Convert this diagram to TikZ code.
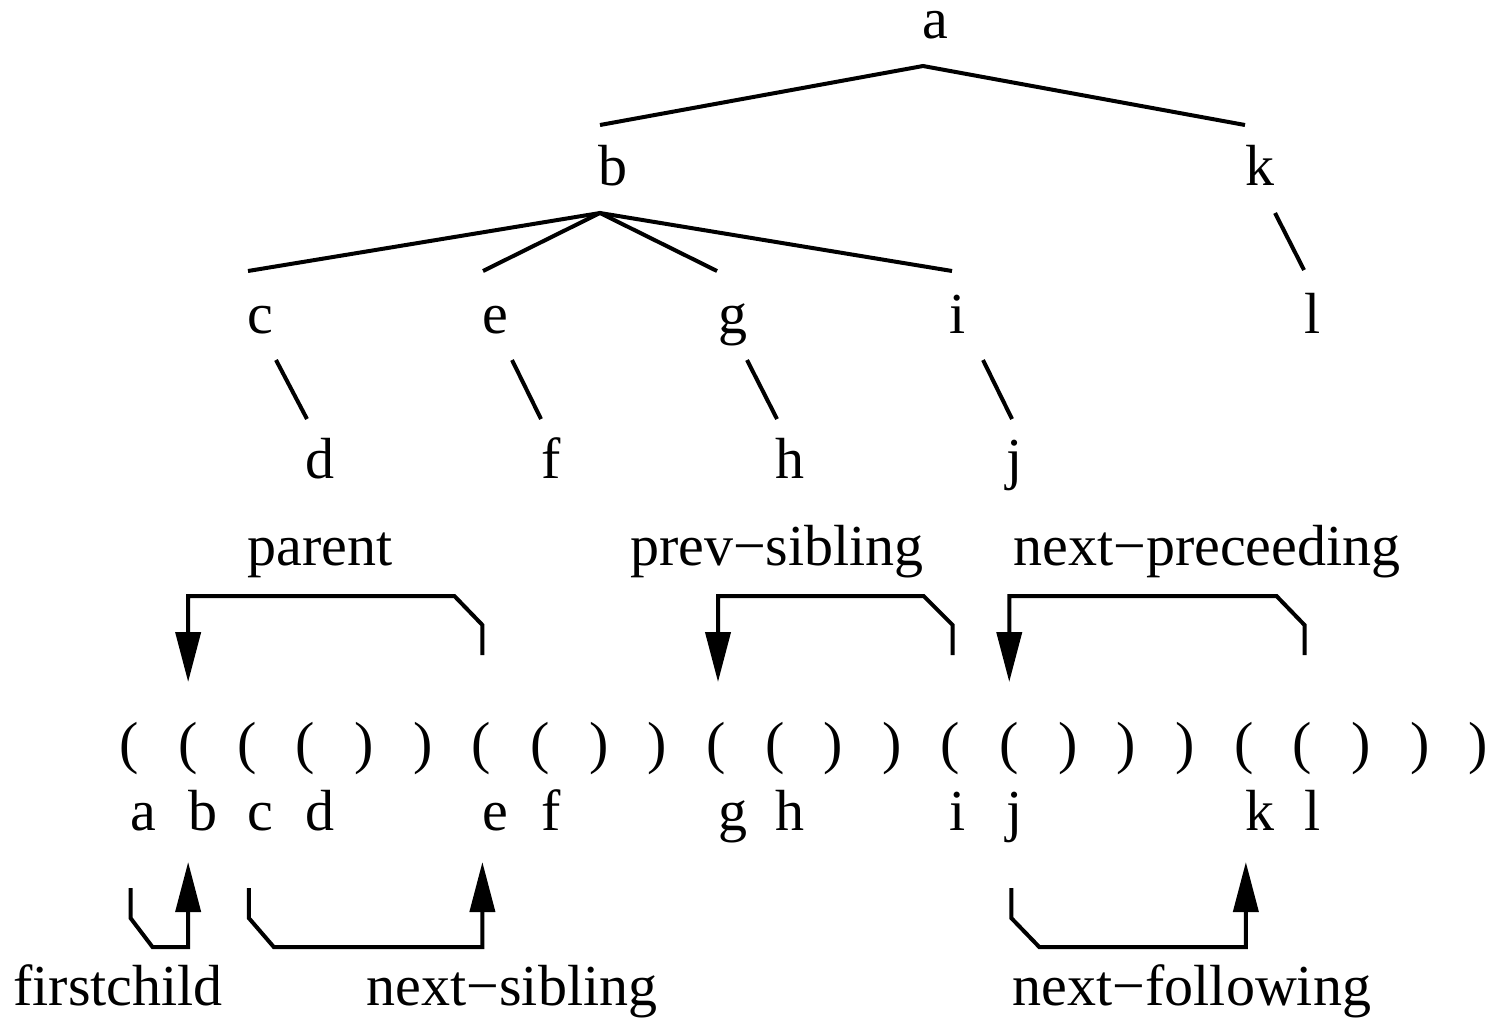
\documentclass[tikz,border=0pt]{standalone}
\usepackage{fontspec}
\setmainfont{Liberation Serif}
\usetikzlibrary{arrows.meta,calc}
\begin{document}
\begin{tikzpicture}[x=1pt,y=-1pt,
  lbl/.style={anchor=base,inner sep=0pt,font=\fontsize{58}{60}\selectfont},
  edge/.style={line width=4pt},
  arr/.style={line width=4pt,-{Triangle[length=50pt,width=25pt]}}]
\useasboundingbox (0,0) rectangle (1501,1021);
% tree letters
\node[lbl] (ta) at (935,38) {a};
\node[lbl] (tb) at (613,185) {b};
\node[lbl] (tk) at (1260,185) {k};
\node[lbl] (tc) at (260,333) {c};
\node[lbl] (te) at (495,333) {e};
\node[lbl] (tg) at (733,333) {g};
\node[lbl] (ti) at (958,333) {i};
\node[lbl] (tl) at (1313,333) {l};
\node[lbl] (td) at (320,478) {d};
\node[lbl] (tf) at (551,478) {f};
\node[lbl] (th) at (790,478) {h};
\node[lbl] (tj) at (1015,478) {j};
% tree edges
\draw[edge] ($(tb.base)+(-13,-60)$) -- ($(ta.base)+(-12,28)$) -- ($(tk.base)+(-15,-60)$);
\draw[edge] ($(tc.base)+(-12,-62)$) -- ($(tb.base)+(-13,28)$) -- ($(ti.base)+(-6,-62)$);
\draw[edge] ($(te.base)+(-12,-62)$) -- ($(tb.base)+(-13,28)$) -- ($(tg.base)+(-16,-62)$);
\draw[edge] ($(tk.base)+(15,28)$) -- ($(tl.base)+(-9,-63)$);
\draw[edge] ($(tc.base)+(16,27)$) -- ($(td.base)+(-13,-59)$);
\draw[edge] ($(te.base)+(17,27)$) -- ($(tf.base)+(-10,-59)$);
\draw[edge] ($(tg.base)+(14,27)$) -- ($(th.base)+(-13,-59)$);
\draw[edge] ($(ti.base)+(25,27)$) -- ($(tj.base)+(-3,-59)$);
% parentheses (0 = open, 1 = close)
\foreach \c [count=\i] in {0,0,0,0,1,1,0,0,1,1,0,0,1,1,0,0,1,1,1,0,0,1,1,1}{
  \node[lbl] (p\i) at ({129.5+58.65*(\i-1)},762) {\ifnum\c=0 (\else )\fi};
}
% sequence letters
\node[lbl] (la) at (143,830) {a};
\node[lbl] (lb) at (203,830) {b};
\node[lbl] (lc) at (260,830) {c};
\node[lbl] (ld) at (320,830) {d};
\node[lbl] (le) at (495,830) {e};
\node[lbl] (lf) at (551,830) {f};
\node[lbl] (lg) at (733,830) {g};
\node[lbl] (lh) at (790,830) {h};
\node[lbl] (li) at (958,830) {i};
\node[lbl] (lj) at (1015,830) {j};
\node[lbl] (lk) at (1260,830) {k};
\node[lbl] (ll) at (1313,830) {l};
% labels
\node[lbl] (parent) at (320,565) {parent};
\node[lbl] (prevsib) at (777,565) {prev−sibling};
\node[lbl] (nextprec) at (1207,565) {next−preceeding};
\node[lbl] (firstchild) at (118,1005) {firstchild};
\node[lbl] (nextsib) at (512,1005) {next−sibling};
\node[lbl] (nextfol) at (1192,1005) {next−following};
% top arrows
\draw[arr] ($(p7.base)+(1,-107)$) -- ++(0,-30) -- ++(-28,-29) -| ($(p2.base)+(0,-80)$);
\draw[arr] ($(p15.base)+(2,-107)$) -- ++(0,-30) -- ++(-29,-29) -| ($(p11.base)+(2,-80)$);
\draw[arr] ($(p21.base)+(2,-107)$) -- ++(0,-30) -- ++(-28,-29) -| ($(p16.base)+(0,-80)$);
% bottom arrows
\draw[arr] ($(p1.base)+(1,126)$) -- ++(0,30) -- ++(22,29) -| ($(p2.base)+(0,100)$);
\draw[arr] ($(p3.base)+(2,126)$) -- ++(0,30) -- ++(25,29) -| ($(p7.base)+(1,100)$);
\draw[arr] ($(p16.base)+(2,126)$) -- ++(0,30) -- ++(28,29) -| ($(p20.base)+(2,100)$);
\end{tikzpicture}
\end{document}
